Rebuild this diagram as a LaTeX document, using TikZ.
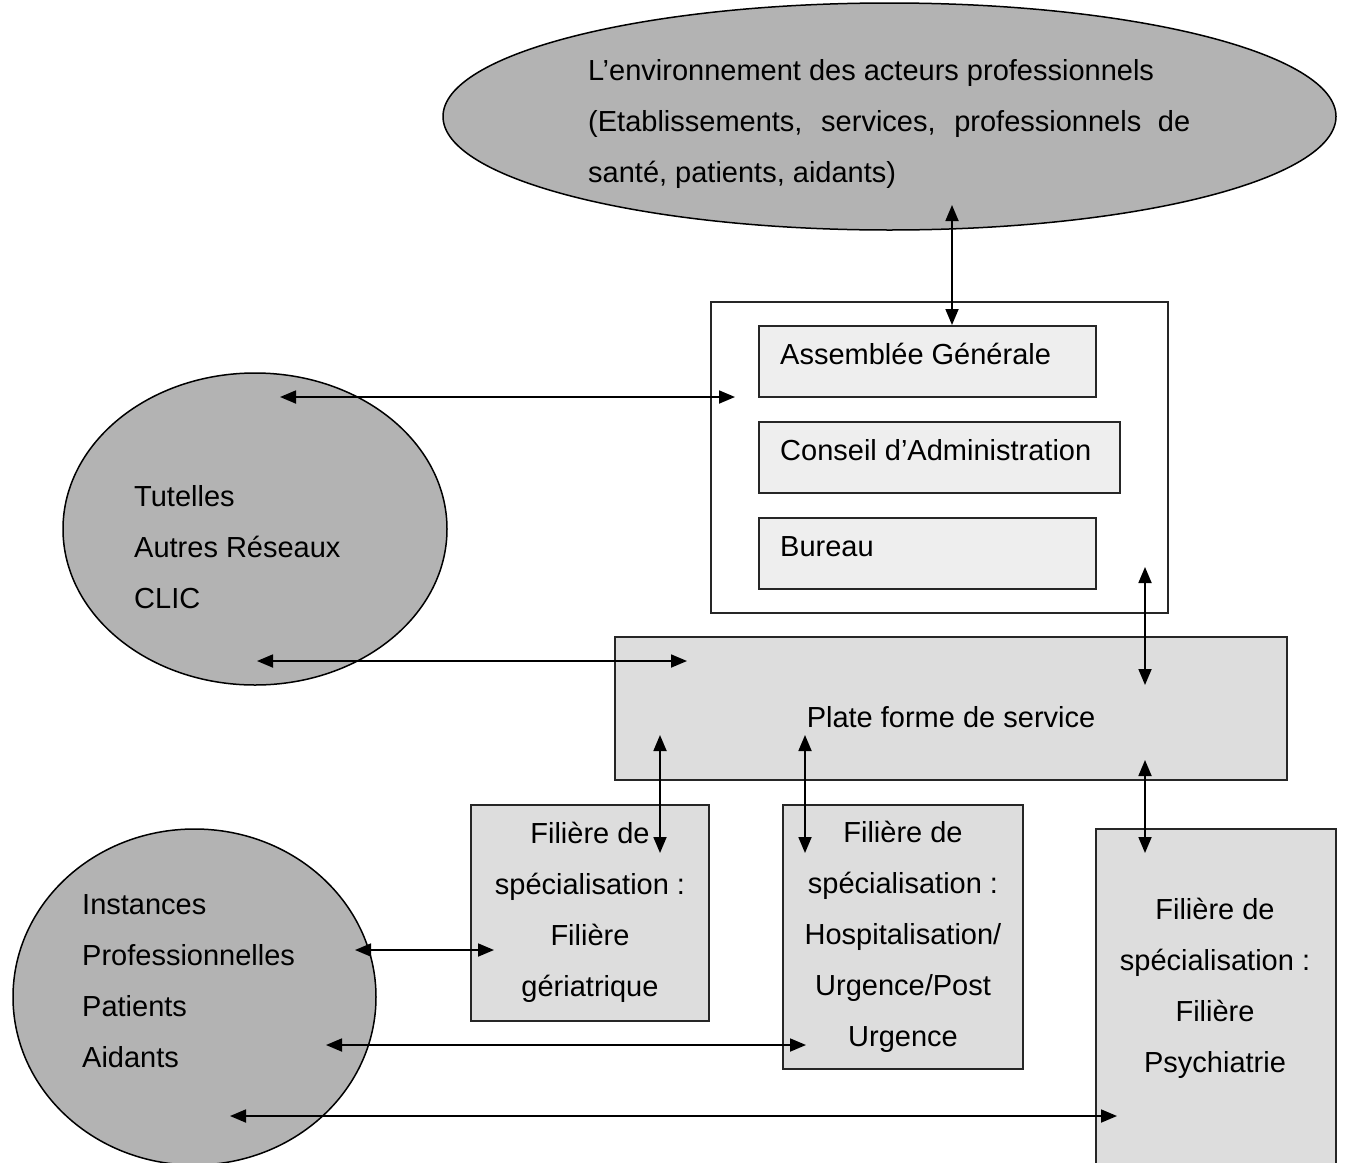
\documentclass[tikz,border=0pt]{standalone}
\usepackage{fontspec}
\setmainfont{Liberation Sans}
\usetikzlibrary{shapes.geometric,arrows.meta}
\definecolor{ellgray}{HTML}{B3B3B3}
\definecolor{boxgray}{HTML}{DDDDDD}
\definecolor{innergray}{HTML}{EEEEEE}
\begin{document}
\begin{tikzpicture}[x=1pt,y=-1pt,
  ellnode/.style={ellipse,draw=black,line width=1.5pt,fill=ellgray,inner sep=0pt},
  boxnode/.style={rectangle,draw=black!85,line width=2pt,fill=boxgray,inner sep=0pt},
  innerbox/.style={rectangle,draw=black!85,line width=2pt,fill=innergray,inner sep=0pt},
  txt/.style={inner sep=0pt,font=\fontsize{29}{51}\selectfont},
  link/.style={line width=1.8pt,{Triangle[length=16pt,width=13pt]}-{Triangle[length=16pt,width=13pt]}}]
\clip (0,0) rectangle (1348,1162);
\fill[white] (0,0) rectangle (1348,1162);
% ellipses
\node[ellnode,minimum width=893pt,minimum height=227pt] (env) at (889.5,116.5) {};
\node[ellnode,minimum width=384pt,minimum height=312pt] (tut) at (255,529) {};
\node[ellnode,minimum width=363pt,minimum height=336pt] (inst) at (194.5,997) {};
% texts in ellipses
\node[txt,anchor=west,align=left] (envtxt) at (588,124) {L’environnement des acteurs professionnels\\\makebox[602pt][s]{(Etablissements, services, professionnels de}\\santé, patients, aidants)};
\node[txt,anchor=west,align=left] (tuttxt) at (134,547.5) {Tutelles\\Autres Réseaux\\CLIC};
\node[txt,anchor=west,align=left] (insttxt) at (82,981) {Instances\\Professionnelles\\Patients\\Aidants};
% governance
\node[rectangle,draw=black!85,line width=2pt,fill=white,minimum width=457pt,minimum height=311pt] (gov) at (939.5,457) {};
\node[innerbox,minimum width=337pt,minimum height=71pt] (ag) at (927.5,361.5) {};
\node[innerbox,minimum width=361pt,minimum height=71pt] (ca) at (939.5,457.5) {};
\node[innerbox,minimum width=337pt,minimum height=71pt] (bu) at (927.5,553.5) {};
\node[txt,anchor=west] (agtxt) at (780,354) {Assemblée Générale};
\node[txt,anchor=west] (catxt) at (780,450) {Conseil d’Administration};
\node[txt,anchor=west] (butxt) at (780,547) {Bureau};
% platform
\node[boxnode,minimum width=672pt,minimum height=143pt] (pf) at (951,708.5) {};
\node[txt] (pftxt) at (951,717) {Plate forme de service};
% filieres
\node[boxnode,minimum width=238pt,minimum height=216pt] (f1) at (590,913) {};
\node[txt,align=center] (f1txt) at (590,912) {Filière de\\spécialisation :\\Filière\\gériatrique};
\node[boxnode,minimum width=240pt,minimum height=264pt] (f2) at (903,937) {};
\node[txt,align=center] (f2txt) at (903,937) {Filière de\\spécialisation :\\Hospitalisation/\\Urgence/Post\\Urgence};
\node[boxnode,minimum width=240pt,minimum height=360pt] (f3) at (1216,1009) {};
\node[txt,align=center] (f3txt) at (1215,988.5) {Filière de\\spécialisation :\\Filière\\Psychiatrie};
% connector ends
\coordinate (envA) at (952,205);
\coordinate (agA) at (952,325);
\coordinate (tutA) at (280,397);
\coordinate (govA) at (735,397);
\coordinate (tutB) at (257,661);
\coordinate (pfA) at (687,661);
\coordinate (govB) at (1145,567);
\coordinate (pfB) at (1145,685);
\coordinate (pfC) at (660,735);
\coordinate (f1A) at (660,853);
\coordinate (pfD) at (805,735);
\coordinate (f2A) at (805,853);
\coordinate (pfE) at (1145,760);
\coordinate (f3A) at (1145,853);
\coordinate (instA) at (355,950);
\coordinate (f1B) at (494,950);
\coordinate (instB) at (326,1045);
\coordinate (f2B) at (806,1045);
\coordinate (instC) at (230,1116);
\coordinate (f3B) at (1117,1116);
% connectors
\draw[link] (envA) -- (agA);
\draw[link] (tutA) -- (govA);
\draw[link] (tutB) -- (pfA);
\draw[link] (govB) -- (pfB);
\draw[link] (pfC) -- (f1A);
\draw[link] (pfD) -- (f2A);
\draw[link] (pfE) -- (f3A);
\draw[link] (instA) -- (f1B);
\draw[link] (instB) -- (f2B);
\draw[link] (instC) -- (f3B);
\end{tikzpicture}
\end{document}
